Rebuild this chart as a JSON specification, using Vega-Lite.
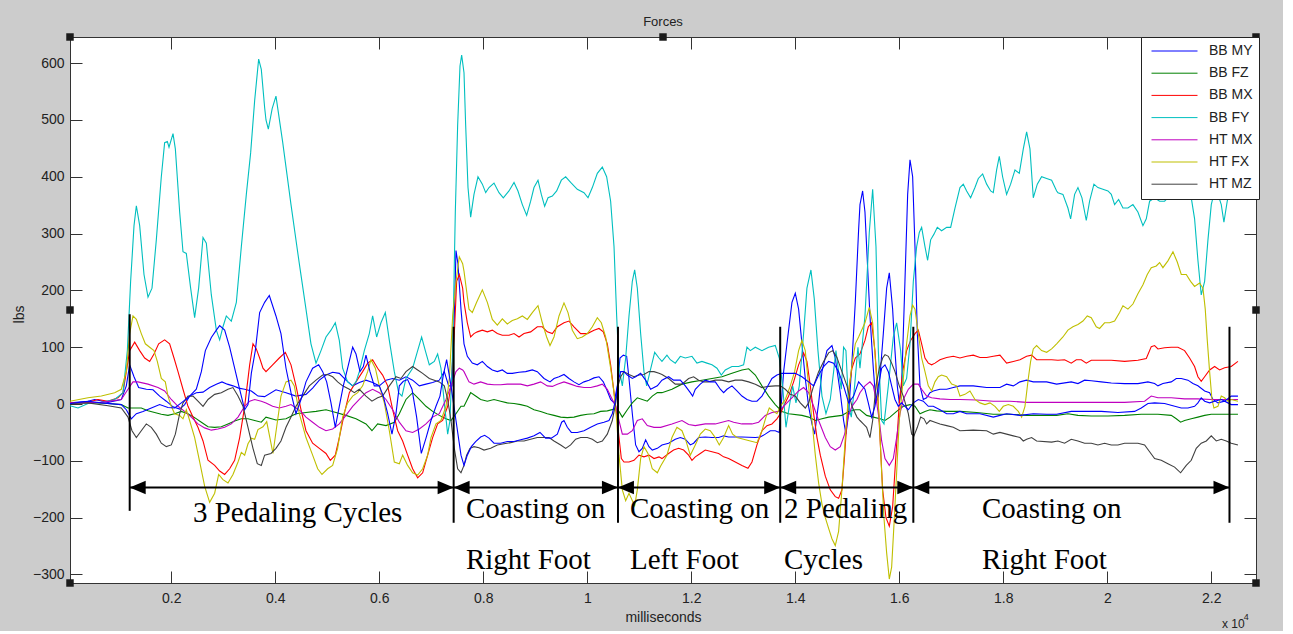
{
  "$schema": "https://vega.github.io/schema/vega-lite/v6.json",
  "width": 1186,
  "height": 546,
  "autosize": {"type": "none"},
  "padding": {"left": 70, "top": 37, "right": 27, "bottom": 48},
  "background": "#cccccc",
  "title": {"text": "Forces", "font": "Liberation Sans", "fontSize": 13, "fontWeight": "normal", "color": "#222222", "anchor": "middle", "frame": "group", "baseline": "alphabetic", "offset": -6},
  "config": {
    "view": {"fill": "white", "stroke": null},
    "axis": {"grid": false, "labelFont": "Liberation Sans", "labelFontSize": 14, "labelColor": "#222222", "titleFont": "Liberation Sans", "titleFontSize": 14, "titleFontWeight": "normal", "titleColor": "#222222", "domainColor": "#333333", "tickColor": "#333333", "tickSize": -12}
  },
  "datasets": {
    "signals": [
      {"s":"BB MY","t":52,"v":2},{"s":"BB MY","t":398,"v":5},{"s":"BB MY","t":526,"v":8},{"s":"BB MY","t":783,"v":3},{"s":"BB MY","t":1039,"v":8},{"s":"BB MY","t":1135,"v":32},{"s":"BB MY","t":1199,"v":69},{"s":"BB MY","t":1283,"v":48},{"s":"BB MY","t":1372,"v":29},{"s":"BB MY","t":1520,"v":26},{"s":"BB MY","t":1648,"v":25},{"s":"BB MY","t":1776,"v":14},{"s":"BB MY","t":1904,"v":5},{"s":"BB MY","t":2033,"v":-5},{"s":"BB MY","t":2161,"v":-9},{"s":"BB MY","t":2257,"v":-1},{"s":"BB MY","t":2353,"v":14},{"s":"BB MY","t":2481,"v":20},{"s":"BB MY","t":2610,"v":21},{"s":"BB MY","t":2738,"v":29},{"s":"BB MY","t":2866,"v":35},{"s":"BB MY","t":2975,"v":39},{"s":"BB MY","t":3077,"v":35},{"s":"BB MY","t":3186,"v":32},{"s":"BB MY","t":3295,"v":28},{"s":"BB MY","t":3411,"v":26},{"s":"BB MY","t":3539,"v":23},{"s":"BB MY","t":3667,"v":14},{"s":"BB MY","t":3795,"v":13},
      {"s":"BB MY","t":4013,"v":25},{"s":"BB MY","t":4206,"v":20},{"s":"BB MY","t":4398,"v":14},{"s":"BB MY","t":4590,"v":17},{"s":"BB MY","t":4718,"v":28},{"s":"BB MY","t":4847,"v":42},{"s":"BB MY","t":4975,"v":51},{"s":"BB MY","t":5103,"v":56},{"s":"BB MY","t":5231,"v":54},{"s":"BB MY","t":5359,"v":42},{"s":"BB MY","t":5488,"v":32},{"s":"BB MY","t":5616,"v":38},{"s":"BB MY","t":5744,"v":42},{"s":"BB MY","t":5872,"v":38},{"s":"BB MY","t":6000,"v":32},{"s":"BB MY","t":6129,"v":42},{"s":"BB MY","t":6257,"v":45},{"s":"BB MY","t":6385,"v":42},{"s":"BB MY","t":6513,"v":48},{"s":"BB MY","t":6641,"v":42},{"s":"BB MY","t":6770,"v":32},{"s":"BB MY","t":6898,"v":35},{"s":"BB MY","t":7026,"v":38},{"s":"BB MY","t":7154,"v":42},{"s":"BB MY","t":7250,"v":57},{"s":"BB MY","t":7334,"v":32},{"s":"BB MY","t":7398,"v":32},{"s":"BB MY","t":7443,"v":155},{"s":"BB MY","t":7475,"v":270},{"s":"BB MY","t":7513,"v":247},{"s":"BB MY","t":7571,"v":167},
      {"s":"BB MY","t":7629,"v":106},{"s":"BB MY","t":7693,"v":84},{"s":"BB MY","t":7789,"v":72},{"s":"BB MY","t":7885,"v":69},{"s":"BB MY","t":7982,"v":75},{"s":"BB MY","t":8078,"v":66},{"s":"BB MY","t":8174,"v":60},{"s":"BB MY","t":8270,"v":57},{"s":"BB MY","t":8366,"v":60},{"s":"BB MY","t":8462,"v":54},{"s":"BB MY","t":8558,"v":54},{"s":"BB MY","t":8687,"v":56},{"s":"BB MY","t":8815,"v":57},{"s":"BB MY","t":8943,"v":60},{"s":"BB MY","t":9039,"v":57},{"s":"BB MY","t":9168,"v":45},{"s":"BB MY","t":9283,"v":39},{"s":"BB MY","t":9360,"v":45},{"s":"BB MY","t":9456,"v":48},{"s":"BB MY","t":9552,"v":52},{"s":"BB MY","t":9648,"v":45},{"s":"BB MY","t":9744,"v":39},{"s":"BB MY","t":9840,"v":34},{"s":"BB MY","t":9937,"v":39},{"s":"BB MY","t":10033,"v":42},{"s":"BB MY","t":10129,"v":46},{"s":"BB MY","t":10225,"v":48},{"s":"BB MY","t":10308,"v":39},{"s":"BB MY","t":10385,"v":23},{"s":"BB MY","t":10449,"v":8},{"s":"BB MY","t":10514,"v":2},{"s":"BB MY","t":10578,"v":32},{"s":"BB MY","t":10629,"v":81},{"s":"BB MY","t":10693,"v":86},{"s":"BB MY","t":10757,"v":84},{"s":"BB MY","t":10802,"v":45},{"s":"BB MY","t":10866,"v":-17},{"s":"BB MY","t":10930,"v":-72},{"s":"BB MY","t":10994,"v":-84},{"s":"BB MY","t":11058,"v":-78},{"s":"BB MY","t":11122,"v":-63},{"s":"BB MY","t":11186,"v":-75},{"s":"BB MY","t":11250,"v":-81},{"s":"BB MY","t":11347,"v":-78},
      {"s":"BB MY","t":11436,"v":-72},{"s":"BB MY","t":11564,"v":-69},{"s":"BB MY","t":11692,"v":-62},{"s":"BB MY","t":11789,"v":-59},{"s":"BB MY","t":11885,"v":-62},{"s":"BB MY","t":11981,"v":-72},{"s":"BB MY","t":12045,"v":-69},{"s":"BB MY","t":12141,"v":-59},{"s":"BB MY","t":12269,"v":-58},{"s":"BB MY","t":12398,"v":-59},{"s":"BB MY","t":12526,"v":-59},{"s":"BB MY","t":12622,"v":-56},{"s":"BB MY","t":12718,"v":-58},{"s":"BB MY","t":12974,"v":-58},{"s":"BB MY","t":13231,"v":-59},{"s":"BB MY","t":13327,"v":-58},{"s":"BB MY","t":13423,"v":-53},{"s":"BB MY","t":13519,"v":-47},{"s":"BB MY","t":13615,"v":-47},{"s":"BB MY","t":13692,"v":-50},{"s":"BB MY","t":13776,"v":57},{"s":"BB MY","t":13840,"v":106},{"s":"BB MY","t":13936,"v":179},{"s":"BB MY","t":14000,"v":195},{"s":"BB MY","t":14064,"v":167},{"s":"BB MY","t":14128,"v":106},{"s":"BB MY","t":14192,"v":45},{"s":"BB MY","t":14256,"v":-4},{"s":"BB MY","t":14321,"v":-35},{"s":"BB MY","t":14372,"v":-53},{"s":"BB MY","t":14449,"v":2},{"s":"BB MY","t":14513,"v":57},{"s":"BB MY","t":14609,"v":94},{"s":"BB MY","t":14705,"v":103},{"s":"BB MY","t":14769,"v":81},{"s":"BB MY","t":14865,"v":20},{"s":"BB MY","t":14929,"v":-29},{"s":"BB MY","t":14974,"v":-53},{"s":"BB MY","t":15026,"v":-17},{"s":"BB MY","t":15090,"v":75},{"s":"BB MY","t":15154,"v":179},{"s":"BB MY","t":15218,"v":307},
      {"s":"BB MY","t":15244,"v":351},{"s":"BB MY","t":15295,"v":375},{"s":"BB MY","t":15340,"v":338},{"s":"BB MY","t":15372,"v":277},{"s":"BB MY","t":15436,"v":155},{"s":"BB MY","t":15500,"v":63},{"s":"BB MY","t":15552,"v":2},{"s":"BB MY","t":15597,"v":14},{"s":"BB MY","t":15641,"v":63},{"s":"BB MY","t":15693,"v":124},{"s":"BB MY","t":15757,"v":204},{"s":"BB MY","t":15808,"v":231},{"s":"BB MY","t":15872,"v":167},{"s":"BB MY","t":15917,"v":94},{"s":"BB MY","t":15962,"v":32},{"s":"BB MY","t":16000,"v":2},{"s":"BB MY","t":16045,"v":32},{"s":"BB MY","t":16109,"v":216},{"s":"BB MY","t":16161,"v":369},{"s":"BB MY","t":16206,"v":430},{"s":"BB MY","t":16257,"v":400},{"s":"BB MY","t":16302,"v":277},{"s":"BB MY","t":16347,"v":124},{"s":"BB MY","t":16398,"v":32},{"s":"BB MY","t":16462,"v":8},{"s":"BB MY","t":16526,"v":11},{"s":"BB MY","t":16590,"v":20},{"s":"BB MY","t":16654,"v":23},{"s":"BB MY","t":16782,"v":26},{"s":"BB MY","t":16911,"v":26},{"s":"BB MY","t":17039,"v":29},{"s":"BB MY","t":17167,"v":32},{"s":"BB MY","t":17423,"v":32},{"s":"BB MY","t":17680,"v":29},{"s":"BB MY","t":17936,"v":29},{"s":"BB MY","t":18064,"v":35},{"s":"BB MY","t":18193,"v":32},{"s":"BB MY","t":18321,"v":39},{"s":"BB MY","t":18449,"v":42},{"s":"BB MY","t":18577,"v":39},{"s":"BB MY","t":18834,"v":39},{"s":"BB MY","t":19026,"v":35},
      {"s":"BB MY","t":19307,"v":39},{"s":"BB MY","t":19436,"v":36},{"s":"BB MY","t":19564,"v":42},{"s":"BB MY","t":19692,"v":41},{"s":"BB MY","t":19884,"v":39},{"s":"BB MY","t":20077,"v":37},{"s":"BB MY","t":20333,"v":36},{"s":"BB MY","t":20589,"v":36},{"s":"BB MY","t":20782,"v":39},{"s":"BB MY","t":20910,"v":36},{"s":"BB MY","t":20974,"v":32},{"s":"BB MY","t":21070,"v":36},{"s":"BB MY","t":21230,"v":39},{"s":"BB MY","t":21327,"v":45},{"s":"BB MY","t":21423,"v":45},{"s":"BB MY","t":21551,"v":42},{"s":"BB MY","t":21647,"v":36},{"s":"BB MY","t":21743,"v":32},{"s":"BB MY","t":21872,"v":23},{"s":"BB MY","t":21968,"v":20},{"s":"BB MY","t":22032,"v":8},{"s":"BB MY","t":22128,"v":2},{"s":"BB MY","t":22256,"v":5},{"s":"BB MY","t":22384,"v":-1},{"s":"BB MY","t":22513,"v":-1},

      {"s":"BB FZ","t":52,"v":2},{"s":"BB FZ","t":398,"v":3},{"s":"BB FZ","t":783,"v":1},{"s":"BB FZ","t":1039,"v":-1},{"s":"BB FZ","t":1167,"v":-7},{"s":"BB FZ","t":1423,"v":-7},{"s":"BB FZ","t":1552,"v":-12},{"s":"BB FZ","t":1680,"v":-15},{"s":"BB FZ","t":1808,"v":-18},{"s":"BB FZ","t":1936,"v":-20},{"s":"BB FZ","t":2064,"v":-17},{"s":"BB FZ","t":2193,"v":-13},{"s":"BB FZ","t":2321,"v":-17},{"s":"BB FZ","t":2449,"v":-24},{"s":"BB FZ","t":2578,"v":-32},{"s":"BB FZ","t":2706,"v":-40},{"s":"BB FZ","t":2834,"v":-41},{"s":"BB FZ","t":2962,"v":-40},{"s":"BB FZ","t":3090,"v":-35},{"s":"BB FZ","t":3218,"v":-30},{"s":"BB FZ","t":3347,"v":-26},{"s":"BB FZ","t":3475,"v":-26},{"s":"BB FZ","t":3603,"v":-29},{"s":"BB FZ","t":3731,"v":-32},
      {"s":"BB FZ","t":3821,"v":-23},{"s":"BB FZ","t":4013,"v":-28},{"s":"BB FZ","t":4206,"v":-26},{"s":"BB FZ","t":4398,"v":-17},{"s":"BB FZ","t":4590,"v":-15},{"s":"BB FZ","t":4783,"v":-13},{"s":"BB FZ","t":4975,"v":-10},{"s":"BB FZ","t":5167,"v":-15},{"s":"BB FZ","t":5359,"v":-20},{"s":"BB FZ","t":5552,"v":-26},{"s":"BB FZ","t":5744,"v":-35},{"s":"BB FZ","t":5859,"v":-47},{"s":"BB FZ","t":5968,"v":-35},{"s":"BB FZ","t":6129,"v":-38},{"s":"BB FZ","t":6289,"v":-32},{"s":"BB FZ","t":6385,"v":-17},{"s":"BB FZ","t":6513,"v":8},{"s":"BB FZ","t":6641,"v":20},{"s":"BB FZ","t":6770,"v":8},{"s":"BB FZ","t":6898,"v":-4},{"s":"BB FZ","t":7026,"v":-13},{"s":"BB FZ","t":7154,"v":-20},{"s":"BB FZ","t":7283,"v":-26},{"s":"BB FZ","t":7379,"v":-29},{"s":"BB FZ","t":7475,"v":-17},{"s":"BB FZ","t":7571,"v":-4},
      {"s":"BB FZ","t":7629,"v":-4},{"s":"BB FZ","t":7693,"v":8},{"s":"BB FZ","t":7757,"v":20},{"s":"BB FZ","t":7853,"v":14},{"s":"BB FZ","t":7949,"v":8},{"s":"BB FZ","t":8078,"v":5},{"s":"BB FZ","t":8206,"v":8},{"s":"BB FZ","t":8334,"v":5},{"s":"BB FZ","t":8462,"v":2},{"s":"BB FZ","t":8591,"v":1},{"s":"BB FZ","t":8719,"v":-1},{"s":"BB FZ","t":8847,"v":-4},{"s":"BB FZ","t":8975,"v":-10},{"s":"BB FZ","t":9103,"v":-13},{"s":"BB FZ","t":9231,"v":-17},{"s":"BB FZ","t":9360,"v":-20},{"s":"BB FZ","t":9488,"v":-23},{"s":"BB FZ","t":9616,"v":-24},{"s":"BB FZ","t":9744,"v":-23},{"s":"BB FZ","t":9872,"v":-20},{"s":"BB FZ","t":10001,"v":-18},{"s":"BB FZ","t":10129,"v":-17},{"s":"BB FZ","t":10257,"v":-13},{"s":"BB FZ","t":10385,"v":-12},{"s":"BB FZ","t":10514,"v":-9},{"s":"BB FZ","t":10610,"v":-13},{"s":"BB FZ","t":10674,"v":-23},{"s":"BB FZ","t":10770,"v":-10},{"s":"BB FZ","t":10866,"v":2},{"s":"BB FZ","t":10962,"v":11},{"s":"BB FZ","t":11058,"v":8},{"s":"BB FZ","t":11154,"v":5},{"s":"BB FZ","t":11250,"v":14},{"s":"BB FZ","t":11347,"v":20},
      {"s":"BB FZ","t":11436,"v":20},{"s":"BB FZ","t":11628,"v":26},{"s":"BB FZ","t":11821,"v":35},{"s":"BB FZ","t":12013,"v":39},{"s":"BB FZ","t":12205,"v":42},{"s":"BB FZ","t":12398,"v":45},{"s":"BB FZ","t":12590,"v":48},{"s":"BB FZ","t":12782,"v":54},{"s":"BB FZ","t":12974,"v":60},{"s":"BB FZ","t":13103,"v":62},{"s":"BB FZ","t":13231,"v":51},{"s":"BB FZ","t":13359,"v":32},{"s":"BB FZ","t":13487,"v":14},{"s":"BB FZ","t":13615,"v":-1},{"s":"BB FZ","t":13744,"v":-13},{"s":"BB FZ","t":13872,"v":-17},{"s":"BB FZ","t":14128,"v":-20},{"s":"BB FZ","t":14256,"v":-23},{"s":"BB FZ","t":14385,"v":-29},{"s":"BB FZ","t":14513,"v":-26},{"s":"BB FZ","t":14641,"v":-23},{"s":"BB FZ","t":14897,"v":-20},{"s":"BB FZ","t":15026,"v":-13},{"s":"BB FZ","t":15154,"v":-10},
      {"s":"BB FZ","t":15244,"v":-10},{"s":"BB FZ","t":15372,"v":-20},{"s":"BB FZ","t":15500,"v":-23},{"s":"BB FZ","t":15629,"v":-26},{"s":"BB FZ","t":15725,"v":-29},{"s":"BB FZ","t":15821,"v":-23},{"s":"BB FZ","t":15949,"v":-13},{"s":"BB FZ","t":16077,"v":-4},{"s":"BB FZ","t":16206,"v":-1},{"s":"BB FZ","t":16302,"v":-4},{"s":"BB FZ","t":16398,"v":-17},{"s":"BB FZ","t":16494,"v":-13},{"s":"BB FZ","t":16590,"v":-10},{"s":"BB FZ","t":16718,"v":-12},{"s":"BB FZ","t":16911,"v":-13},{"s":"BB FZ","t":17167,"v":-13},{"s":"BB FZ","t":17488,"v":-15},{"s":"BB FZ","t":17808,"v":-18},{"s":"BB FZ","t":18129,"v":-18},{"s":"BB FZ","t":18449,"v":-20},{"s":"BB FZ","t":18770,"v":-20},{"s":"BB FZ","t":19026,"v":-20},
      {"s":"BB FZ","t":19243,"v":-17},{"s":"BB FZ","t":19436,"v":-20},{"s":"BB FZ","t":19692,"v":-21},{"s":"BB FZ","t":20013,"v":-21},{"s":"BB FZ","t":20333,"v":-20},{"s":"BB FZ","t":20654,"v":-18},{"s":"BB FZ","t":20974,"v":-18},{"s":"BB FZ","t":21230,"v":-20},{"s":"BB FZ","t":21327,"v":-26},{"s":"BB FZ","t":21410,"v":-32},{"s":"BB FZ","t":21487,"v":-29},{"s":"BB FZ","t":21615,"v":-26},{"s":"BB FZ","t":21743,"v":-23},{"s":"BB FZ","t":21872,"v":-20},{"s":"BB FZ","t":22000,"v":-18},{"s":"BB FZ","t":22256,"v":-18},{"s":"BB FZ","t":22513,"v":-18},

      {"s":"BB MX","t":52,"v":2},{"s":"BB MX","t":398,"v":3},{"s":"BB MX","t":590,"v":8},{"s":"BB MX","t":783,"v":5},{"s":"BB MX","t":975,"v":11},{"s":"BB MX","t":1071,"v":20},{"s":"BB MX","t":1135,"v":57},{"s":"BB MX","t":1199,"v":94},{"s":"BB MX","t":1296,"v":109},{"s":"BB MX","t":1392,"v":94},{"s":"BB MX","t":1488,"v":81},{"s":"BB MX","t":1584,"v":75},{"s":"BB MX","t":1667,"v":88},{"s":"BB MX","t":1757,"v":106},{"s":"BB MX","t":1872,"v":113},{"s":"BB MX","t":1968,"v":106},{"s":"BB MX","t":2052,"v":81},{"s":"BB MX","t":2129,"v":57},{"s":"BB MX","t":2225,"v":26},{"s":"BB MX","t":2321,"v":-4},{"s":"BB MX","t":2417,"v":-23},{"s":"BB MX","t":2513,"v":-41},{"s":"BB MX","t":2610,"v":-65},{"s":"BB MX","t":2706,"v":-99},{"s":"BB MX","t":2834,"v":-108},{"s":"BB MX","t":2930,"v":-118},{"s":"BB MX","t":3026,"v":-124},{"s":"BB MX","t":3122,"v":-114},{"s":"BB MX","t":3218,"v":-99},{"s":"BB MX","t":3315,"v":-59},{"s":"BB MX","t":3411,"v":-4},{"s":"BB MX","t":3507,"v":69},{"s":"BB MX","t":3571,"v":106},{"s":"BB MX","t":3635,"v":97},{"s":"BB MX","t":3699,"v":81},{"s":"BB MX","t":3763,"v":63},
      {"s":"BB MX","t":3821,"v":57},{"s":"BB MX","t":3949,"v":69},{"s":"BB MX","t":4077,"v":81},{"s":"BB MX","t":4193,"v":91},{"s":"BB MX","t":4302,"v":69},{"s":"BB MX","t":4398,"v":32},{"s":"BB MX","t":4494,"v":-10},{"s":"BB MX","t":4590,"v":-47},{"s":"BB MX","t":4718,"v":-69},{"s":"BB MX","t":4847,"v":-78},{"s":"BB MX","t":4975,"v":-87},{"s":"BB MX","t":5058,"v":-99},{"s":"BB MX","t":5154,"v":-90},{"s":"BB MX","t":5231,"v":-59},{"s":"BB MX","t":5327,"v":-17},{"s":"BB MX","t":5424,"v":20},{"s":"BB MX","t":5552,"v":39},{"s":"BB MX","t":5680,"v":57},{"s":"BB MX","t":5776,"v":72},{"s":"BB MX","t":5872,"v":78},{"s":"BB MX","t":5968,"v":63},{"s":"BB MX","t":6064,"v":51},{"s":"BB MX","t":6161,"v":32},{"s":"BB MX","t":6257,"v":-10},{"s":"BB MX","t":6353,"v":-47},{"s":"BB MX","t":6449,"v":-65},{"s":"BB MX","t":6545,"v":-90},{"s":"BB MX","t":6641,"v":-114},{"s":"BB MX","t":6738,"v":-130},{"s":"BB MX","t":6834,"v":-121},{"s":"BB MX","t":6930,"v":-90},{"s":"BB MX","t":7026,"v":-59},{"s":"BB MX","t":7122,"v":-35},{"s":"BB MX","t":7218,"v":-29},{"s":"BB MX","t":7315,"v":-4},{"s":"BB MX","t":7379,"v":32},{"s":"BB MX","t":7443,"v":124},{"s":"BB MX","t":7488,"v":216},{"s":"BB MX","t":7539,"v":228},{"s":"BB MX","t":7603,"v":204},
      {"s":"BB MX","t":7629,"v":179},{"s":"BB MX","t":7693,"v":143},{"s":"BB MX","t":7757,"v":118},{"s":"BB MX","t":7821,"v":124},{"s":"BB MX","t":7885,"v":127},{"s":"BB MX","t":7982,"v":130},{"s":"BB MX","t":8078,"v":127},{"s":"BB MX","t":8174,"v":130},{"s":"BB MX","t":8270,"v":124},{"s":"BB MX","t":8366,"v":121},{"s":"BB MX","t":8494,"v":121},{"s":"BB MX","t":8591,"v":124},{"s":"BB MX","t":8687,"v":118},{"s":"BB MX","t":8783,"v":124},{"s":"BB MX","t":8911,"v":127},{"s":"BB MX","t":9039,"v":136},{"s":"BB MX","t":9135,"v":136},{"s":"BB MX","t":9231,"v":127},{"s":"BB MX","t":9328,"v":124},{"s":"BB MX","t":9424,"v":136},{"s":"BB MX","t":9552,"v":143},{"s":"BB MX","t":9648,"v":146},{"s":"BB MX","t":9744,"v":136},{"s":"BB MX","t":9872,"v":124},{"s":"BB MX","t":10001,"v":124},{"s":"BB MX","t":10129,"v":130},{"s":"BB MX","t":10225,"v":133},{"s":"BB MX","t":10308,"v":127},{"s":"BB MX","t":10385,"v":106},{"s":"BB MX","t":10449,"v":69},{"s":"BB MX","t":10514,"v":20},{"s":"BB MX","t":10565,"v":-17},{"s":"BB MX","t":10610,"v":-59},{"s":"BB MX","t":10655,"v":-96},{"s":"BB MX","t":10706,"v":-102},{"s":"BB MX","t":10802,"v":-102},{"s":"BB MX","t":10898,"v":-99},{"s":"BB MX","t":10994,"v":-90},{"s":"BB MX","t":11090,"v":-93},{"s":"BB MX","t":11186,"v":-90},{"s":"BB MX","t":11283,"v":-96},{"s":"BB MX","t":11379,"v":-93},
      {"s":"BB MX","t":11436,"v":-96},{"s":"BB MX","t":11564,"v":-87},{"s":"BB MX","t":11660,"v":-81},{"s":"BB MX","t":11757,"v":-78},{"s":"BB MX","t":11853,"v":-81},{"s":"BB MX","t":11949,"v":-90},{"s":"BB MX","t":12013,"v":-99},{"s":"BB MX","t":12077,"v":-93},{"s":"BB MX","t":12173,"v":-87},{"s":"BB MX","t":12269,"v":-81},{"s":"BB MX","t":12398,"v":-84},{"s":"BB MX","t":12526,"v":-87},{"s":"BB MX","t":12622,"v":-93},{"s":"BB MX","t":12718,"v":-96},{"s":"BB MX","t":12846,"v":-102},{"s":"BB MX","t":12974,"v":-108},{"s":"BB MX","t":13090,"v":-113},{"s":"BB MX","t":13167,"v":-102},{"s":"BB MX","t":13263,"v":-72},{"s":"BB MX","t":13359,"v":-47},{"s":"BB MX","t":13455,"v":-38},{"s":"BB MX","t":13551,"v":-35},{"s":"BB MX","t":13647,"v":-26},{"s":"BB MX","t":13712,"v":-17},{"s":"BB MX","t":13776,"v":-4},{"s":"BB MX","t":13872,"v":14},{"s":"BB MX","t":13968,"v":39},{"s":"BB MX","t":14064,"v":69},{"s":"BB MX","t":14160,"v":90},{"s":"BB MX","t":14224,"v":75},{"s":"BB MX","t":14289,"v":32},{"s":"BB MX","t":14353,"v":-17},{"s":"BB MX","t":14417,"v":-59},{"s":"BB MX","t":14481,"v":-90},{"s":"BB MX","t":14577,"v":-127},{"s":"BB MX","t":14673,"v":-151},{"s":"BB MX","t":14769,"v":-163},{"s":"BB MX","t":14833,"v":-166},{"s":"BB MX","t":14897,"v":-151},{"s":"BB MX","t":14949,"v":-90},{"s":"BB MX","t":14994,"v":-29},{"s":"BB MX","t":15039,"v":32},{"s":"BB MX","t":15090,"v":63},{"s":"BB MX","t":15154,"v":81},
      {"s":"BB MX","t":15244,"v":88},{"s":"BB MX","t":15340,"v":112},{"s":"BB MX","t":15404,"v":136},{"s":"BB MX","t":15468,"v":143},{"s":"BB MX","t":15532,"v":94},{"s":"BB MX","t":15577,"v":32},{"s":"BB MX","t":15629,"v":-59},{"s":"BB MX","t":15680,"v":-151},{"s":"BB MX","t":15744,"v":-200},{"s":"BB MX","t":15808,"v":-215},{"s":"BB MX","t":15872,"v":-181},{"s":"BB MX","t":15936,"v":-90},{"s":"BB MX","t":16000,"v":2},{"s":"BB MX","t":16064,"v":57},{"s":"BB MX","t":16141,"v":94},{"s":"BB MX","t":16218,"v":112},{"s":"BB MX","t":16302,"v":124},{"s":"BB MX","t":16366,"v":130},{"s":"BB MX","t":16430,"v":106},{"s":"BB MX","t":16494,"v":81},{"s":"BB MX","t":16558,"v":72},{"s":"BB MX","t":16622,"v":69},{"s":"BB MX","t":16686,"v":72},{"s":"BB MX","t":16782,"v":78},{"s":"BB MX","t":16911,"v":82},{"s":"BB MX","t":17039,"v":84},{"s":"BB MX","t":17167,"v":81},{"s":"BB MX","t":17295,"v":84},{"s":"BB MX","t":17423,"v":86},{"s":"BB MX","t":17552,"v":82},{"s":"BB MX","t":17680,"v":82},{"s":"BB MX","t":17808,"v":84},{"s":"BB MX","t":17936,"v":86},{"s":"BB MX","t":18064,"v":72},{"s":"BB MX","t":18193,"v":75},{"s":"BB MX","t":18321,"v":78},{"s":"BB MX","t":18449,"v":84},{"s":"BB MX","t":18545,"v":86},{"s":"BB MX","t":18641,"v":78},{"s":"BB MX","t":18770,"v":78},{"s":"BB MX","t":18930,"v":78},
      {"s":"BB MX","t":19051,"v":77},{"s":"BB MX","t":19179,"v":78},{"s":"BB MX","t":19307,"v":72},{"s":"BB MX","t":19404,"v":78},{"s":"BB MX","t":19500,"v":78},{"s":"BB MX","t":19596,"v":72},{"s":"BB MX","t":19692,"v":77},{"s":"BB MX","t":19884,"v":77},{"s":"BB MX","t":20077,"v":77},{"s":"BB MX","t":20333,"v":75},{"s":"BB MX","t":20589,"v":77},{"s":"BB MX","t":20750,"v":80},{"s":"BB MX","t":20846,"v":101},{"s":"BB MX","t":20910,"v":103},{"s":"BB MX","t":20974,"v":97},{"s":"BB MX","t":21102,"v":99},{"s":"BB MX","t":21230,"v":100},{"s":"BB MX","t":21359,"v":100},{"s":"BB MX","t":21487,"v":94},{"s":"BB MX","t":21583,"v":81},{"s":"BB MX","t":21679,"v":66},{"s":"BB MX","t":21743,"v":48},{"s":"BB MX","t":21807,"v":40},{"s":"BB MX","t":21872,"v":48},{"s":"BB MX","t":21968,"v":60},{"s":"BB MX","t":22064,"v":66},{"s":"BB MX","t":22160,"v":60},{"s":"BB MX","t":22256,"v":64},{"s":"BB MX","t":22384,"v":66},{"s":"BB MX","t":22513,"v":75},

      {"s":"BB FY","t":52,"v":-3},{"s":"BB FY","t":206,"v":-7},{"s":"BB FY","t":398,"v":1},{"s":"BB FY","t":655,"v":3},{"s":"BB FY","t":911,"v":8},{"s":"BB FY","t":1071,"v":20},{"s":"BB FY","t":1155,"v":94},{"s":"BB FY","t":1218,"v":216},{"s":"BB FY","t":1283,"v":314},{"s":"BB FY","t":1328,"v":349},{"s":"BB FY","t":1392,"v":314},{"s":"BB FY","t":1475,"v":228},{"s":"BB FY","t":1552,"v":188},{"s":"BB FY","t":1629,"v":204},{"s":"BB FY","t":1712,"v":289},{"s":"BB FY","t":1808,"v":400},{"s":"BB FY","t":1872,"v":460},{"s":"BB FY","t":1924,"v":462},{"s":"BB FY","t":1956,"v":452},{"s":"BB FY","t":2033,"v":476},{"s":"BB FY","t":2078,"v":449},{"s":"BB FY","t":2161,"v":338},{"s":"BB FY","t":2225,"v":268},{"s":"BB FY","t":2289,"v":265},{"s":"BB FY","t":2372,"v":204},{"s":"BB FY","t":2449,"v":152},{"s":"BB FY","t":2526,"v":204},{"s":"BB FY","t":2610,"v":293},{"s":"BB FY","t":2674,"v":283},{"s":"BB FY","t":2770,"v":192},{"s":"BB FY","t":2866,"v":130},{"s":"BB FY","t":2930,"v":113},{"s":"BB FY","t":2994,"v":136},{"s":"BB FY","t":3058,"v":155},{"s":"BB FY","t":3154,"v":146},{"s":"BB FY","t":3251,"v":179},{"s":"BB FY","t":3347,"v":277},{"s":"BB FY","t":3443,"v":369},{"s":"BB FY","t":3526,"v":442},{"s":"BB FY","t":3603,"v":534},{"s":"BB FY","t":3680,"v":607},{"s":"BB FY","t":3731,"v":589},{"s":"BB FY","t":3795,"v":522},
      {"s":"BB FY","t":3821,"v":500},{"s":"BB FY","t":3866,"v":484},{"s":"BB FY","t":3940,"v":520},{"s":"BB FY","t":4013,"v":542},{"s":"BB FY","t":4142,"v":461},{"s":"BB FY","t":4302,"v":351},{"s":"BB FY","t":4462,"v":247},{"s":"BB FY","t":4590,"v":167},{"s":"BB FY","t":4686,"v":106},{"s":"BB FY","t":4783,"v":72},{"s":"BB FY","t":4879,"v":94},{"s":"BB FY","t":4975,"v":118},{"s":"BB FY","t":5071,"v":130},{"s":"BB FY","t":5154,"v":143},{"s":"BB FY","t":5231,"v":112},{"s":"BB FY","t":5295,"v":63},{"s":"BB FY","t":5391,"v":39},{"s":"BB FY","t":5488,"v":32},{"s":"BB FY","t":5552,"v":39},{"s":"BB FY","t":5616,"v":57},{"s":"BB FY","t":5712,"v":94},{"s":"BB FY","t":5808,"v":124},{"s":"BB FY","t":5872,"v":155},{"s":"BB FY","t":5949,"v":118},{"s":"BB FY","t":6032,"v":143},{"s":"BB FY","t":6116,"v":161},{"s":"BB FY","t":6193,"v":112},{"s":"BB FY","t":6289,"v":57},{"s":"BB FY","t":6372,"v":20},{"s":"BB FY","t":6436,"v":14},{"s":"BB FY","t":6513,"v":45},{"s":"BB FY","t":6641,"v":63},{"s":"BB FY","t":6738,"v":94},{"s":"BB FY","t":6814,"v":118},{"s":"BB FY","t":6885,"v":94},{"s":"BB FY","t":6962,"v":69},{"s":"BB FY","t":7058,"v":75},{"s":"BB FY","t":7122,"v":88},{"s":"BB FY","t":7186,"v":63},{"s":"BB FY","t":7250,"v":2},{"s":"BB FY","t":7315,"v":-53},{"s":"BB FY","t":7359,"v":-29},{"s":"BB FY","t":7411,"v":94},{"s":"BB FY","t":7462,"v":338},{"s":"BB FY","t":7507,"v":491},{"s":"BB FY","t":7552,"v":595},{"s":"BB FY","t":7584,"v":614},
      {"s":"BB FY","t":7629,"v":583},{"s":"BB FY","t":7661,"v":491},{"s":"BB FY","t":7706,"v":381},{"s":"BB FY","t":7757,"v":329},{"s":"BB FY","t":7821,"v":369},{"s":"BB FY","t":7898,"v":400},{"s":"BB FY","t":7982,"v":387},{"s":"BB FY","t":8046,"v":372},{"s":"BB FY","t":8110,"v":381},{"s":"BB FY","t":8206,"v":389},{"s":"BB FY","t":8302,"v":372},{"s":"BB FY","t":8385,"v":363},{"s":"BB FY","t":8494,"v":375},{"s":"BB FY","t":8591,"v":390},{"s":"BB FY","t":8667,"v":375},{"s":"BB FY","t":8751,"v":351},{"s":"BB FY","t":8834,"v":332},{"s":"BB FY","t":8911,"v":357},{"s":"BB FY","t":8975,"v":381},{"s":"BB FY","t":9052,"v":394},{"s":"BB FY","t":9116,"v":369},{"s":"BB FY","t":9180,"v":348},{"s":"BB FY","t":9245,"v":363},{"s":"BB FY","t":9328,"v":366},{"s":"BB FY","t":9411,"v":375},{"s":"BB FY","t":9501,"v":394},{"s":"BB FY","t":9584,"v":400},{"s":"BB FY","t":9680,"v":390},{"s":"BB FY","t":9808,"v":378},{"s":"BB FY","t":9937,"v":372},{"s":"BB FY","t":10014,"v":363},{"s":"BB FY","t":10097,"v":381},{"s":"BB FY","t":10193,"v":406},{"s":"BB FY","t":10289,"v":417},{"s":"BB FY","t":10372,"v":400},{"s":"BB FY","t":10449,"v":357},{"s":"BB FY","t":10514,"v":277},{"s":"BB FY","t":10565,"v":155},{"s":"BB FY","t":10610,"v":63},{"s":"BB FY","t":10674,"v":32},{"s":"BB FY","t":10738,"v":81},{"s":"BB FY","t":10802,"v":155},{"s":"BB FY","t":10866,"v":216},{"s":"BB FY","t":10911,"v":236},{"s":"BB FY","t":10962,"v":204},{"s":"BB FY","t":11026,"v":124},{"s":"BB FY","t":11090,"v":57},{"s":"BB FY","t":11142,"v":32},{"s":"BB FY","t":11206,"v":57},{"s":"BB FY","t":11296,"v":91},{"s":"BB FY","t":11379,"v":81},
      {"s":"BB FY","t":11436,"v":75},{"s":"BB FY","t":11532,"v":86},{"s":"BB FY","t":11596,"v":78},{"s":"BB FY","t":11692,"v":72},{"s":"BB FY","t":11789,"v":84},{"s":"BB FY","t":11885,"v":81},{"s":"BB FY","t":12013,"v":84},{"s":"BB FY","t":12109,"v":72},{"s":"BB FY","t":12205,"v":75},{"s":"BB FY","t":12301,"v":72},{"s":"BB FY","t":12398,"v":69},{"s":"BB FY","t":12494,"v":63},{"s":"BB FY","t":12577,"v":51},{"s":"BB FY","t":12654,"v":60},{"s":"BB FY","t":12782,"v":66},{"s":"BB FY","t":12910,"v":66},{"s":"BB FY","t":13006,"v":69},{"s":"BB FY","t":13071,"v":100},{"s":"BB FY","t":13135,"v":94},{"s":"BB FY","t":13231,"v":100},{"s":"BB FY","t":13359,"v":94},{"s":"BB FY","t":13487,"v":100},{"s":"BB FY","t":13615,"v":103},{"s":"BB FY","t":13692,"v":81},{"s":"BB FY","t":13756,"v":32},{"s":"BB FY","t":13821,"v":-41},{"s":"BB FY","t":13885,"v":-4},{"s":"BB FY","t":13949,"v":32},{"s":"BB FY","t":14013,"v":2},{"s":"BB FY","t":14077,"v":32},{"s":"BB FY","t":14160,"v":124},{"s":"BB FY","t":14224,"v":204},{"s":"BB FY","t":14301,"v":236},{"s":"BB FY","t":14365,"v":185},{"s":"BB FY","t":14436,"v":94},{"s":"BB FY","t":14513,"v":14},{"s":"BB FY","t":14590,"v":-17},{"s":"BB FY","t":14673,"v":8},{"s":"BB FY","t":14737,"v":57},{"s":"BB FY","t":14782,"v":94},{"s":"BB FY","t":14833,"v":57},{"s":"BB FY","t":14885,"v":26},{"s":"BB FY","t":14929,"v":100},{"s":"BB FY","t":14974,"v":94},{"s":"BB FY","t":15026,"v":-4},{"s":"BB FY","t":15077,"v":-23},{"s":"BB FY","t":15141,"v":32},{"s":"BB FY","t":15205,"v":100},
      {"s":"BB FY","t":15244,"v":63},{"s":"BB FY","t":15340,"v":155},{"s":"BB FY","t":15423,"v":302},{"s":"BB FY","t":15488,"v":378},{"s":"BB FY","t":15552,"v":277},{"s":"BB FY","t":15597,"v":94},{"s":"BB FY","t":15661,"v":-29},{"s":"BB FY","t":15706,"v":-35},{"s":"BB FY","t":15789,"v":32},{"s":"BB FY","t":15885,"v":118},{"s":"BB FY","t":15949,"v":143},{"s":"BB FY","t":16026,"v":94},{"s":"BB FY","t":16077,"v":32},{"s":"BB FY","t":16141,"v":45},{"s":"BB FY","t":16206,"v":106},{"s":"BB FY","t":16270,"v":216},{"s":"BB FY","t":16334,"v":277},{"s":"BB FY","t":16385,"v":302},{"s":"BB FY","t":16430,"v":311},{"s":"BB FY","t":16494,"v":277},{"s":"BB FY","t":16545,"v":253},{"s":"BB FY","t":16603,"v":289},{"s":"BB FY","t":16667,"v":299},{"s":"BB FY","t":16731,"v":311},{"s":"BB FY","t":16814,"v":305},{"s":"BB FY","t":16911,"v":311},{"s":"BB FY","t":16988,"v":311},{"s":"BB FY","t":17071,"v":345},{"s":"BB FY","t":17167,"v":381},{"s":"BB FY","t":17231,"v":387},{"s":"BB FY","t":17295,"v":375},{"s":"BB FY","t":17372,"v":363},{"s":"BB FY","t":17455,"v":381},{"s":"BB FY","t":17520,"v":397},{"s":"BB FY","t":17603,"v":405},{"s":"BB FY","t":17680,"v":387},{"s":"BB FY","t":17757,"v":375},{"s":"BB FY","t":17808,"v":372},{"s":"BB FY","t":17872,"v":412},{"s":"BB FY","t":17923,"v":436},{"s":"BB FY","t":17987,"v":400},{"s":"BB FY","t":18064,"v":369},{"s":"BB FY","t":18141,"v":387},{"s":"BB FY","t":18225,"v":412},{"s":"BB FY","t":18308,"v":406},{"s":"BB FY","t":18385,"v":449},{"s":"BB FY","t":18449,"v":479},{"s":"BB FY","t":18513,"v":449},{"s":"BB FY","t":18577,"v":363},{"s":"BB FY","t":18654,"v":387},{"s":"BB FY","t":18737,"v":400},{"s":"BB FY","t":18834,"v":397},{"s":"BB FY","t":18930,"v":394},{"s":"BB FY","t":19026,"v":375},
      {"s":"BB FY","t":19051,"v":372},{"s":"BB FY","t":19147,"v":369},{"s":"BB FY","t":19243,"v":345},{"s":"BB FY","t":19295,"v":326},{"s":"BB FY","t":19372,"v":369},{"s":"BB FY","t":19436,"v":381},{"s":"BB FY","t":19513,"v":363},{"s":"BB FY","t":19596,"v":323},{"s":"BB FY","t":19660,"v":357},{"s":"BB FY","t":19743,"v":387},{"s":"BB FY","t":19820,"v":381},{"s":"BB FY","t":19916,"v":378},{"s":"BB FY","t":20013,"v":375},{"s":"BB FY","t":20077,"v":369},{"s":"BB FY","t":20141,"v":351},{"s":"BB FY","t":20218,"v":360},{"s":"BB FY","t":20301,"v":345},{"s":"BB FY","t":20397,"v":345},{"s":"BB FY","t":20493,"v":351},{"s":"BB FY","t":20589,"v":338},{"s":"BB FY","t":20686,"v":314},{"s":"BB FY","t":20750,"v":326},{"s":"BB FY","t":20814,"v":357},{"s":"BB FY","t":20910,"v":363},{"s":"BB FY","t":21006,"v":357},{"s":"BB FY","t":21102,"v":357},{"s":"BB FY","t":21230,"v":369},{"s":"BB FY","t":21359,"v":381},{"s":"BB FY","t":21487,"v":375},{"s":"BB FY","t":21615,"v":363},{"s":"BB FY","t":21679,"v":326},{"s":"BB FY","t":21743,"v":253},{"s":"BB FY","t":21807,"v":192},{"s":"BB FY","t":21872,"v":216},{"s":"BB FY","t":21936,"v":289},{"s":"BB FY","t":22000,"v":351},{"s":"BB FY","t":22064,"v":375},{"s":"BB FY","t":22128,"v":369},{"s":"BB FY","t":22192,"v":351},{"s":"BB FY","t":22243,"v":320},{"s":"BB FY","t":22307,"v":357},{"s":"BB FY","t":22371,"v":381},{"s":"BB FY","t":22435,"v":375},

      {"s":"HT MX","t":52,"v":2},{"s":"HT MX","t":655,"v":3},{"s":"HT MX","t":1039,"v":8},{"s":"HT MX","t":1167,"v":26},{"s":"HT MX","t":1263,"v":39},{"s":"HT MX","t":1359,"v":39},{"s":"HT MX","t":1552,"v":35},{"s":"HT MX","t":1744,"v":29},{"s":"HT MX","t":1872,"v":23},{"s":"HT MX","t":2000,"v":8},{"s":"HT MX","t":2129,"v":-4},{"s":"HT MX","t":2257,"v":-13},{"s":"HT MX","t":2385,"v":-23},{"s":"HT MX","t":2513,"v":-35},{"s":"HT MX","t":2641,"v":-42},{"s":"HT MX","t":2770,"v":-46},{"s":"HT MX","t":2898,"v":-44},{"s":"HT MX","t":3026,"v":-41},{"s":"HT MX","t":3154,"v":-35},{"s":"HT MX","t":3283,"v":-23},{"s":"HT MX","t":3411,"v":-4},{"s":"HT MX","t":3507,"v":5},{"s":"HT MX","t":3603,"v":8},{"s":"HT MX","t":3731,"v":5},
      {"s":"HT MX","t":3821,"v":2},{"s":"HT MX","t":3949,"v":-4},{"s":"HT MX","t":4077,"v":-7},{"s":"HT MX","t":4206,"v":-4},{"s":"HT MX","t":4302,"v":-1},{"s":"HT MX","t":4398,"v":-7},{"s":"HT MX","t":4494,"v":-13},{"s":"HT MX","t":4590,"v":-23},{"s":"HT MX","t":4718,"v":-32},{"s":"HT MX","t":4847,"v":-41},{"s":"HT MX","t":4975,"v":-47},{"s":"HT MX","t":5103,"v":-44},{"s":"HT MX","t":5231,"v":-35},{"s":"HT MX","t":5359,"v":-20},{"s":"HT MX","t":5488,"v":-4},{"s":"HT MX","t":5616,"v":8},{"s":"HT MX","t":5744,"v":20},{"s":"HT MX","t":5872,"v":26},{"s":"HT MX","t":6000,"v":20},{"s":"HT MX","t":6129,"v":8},{"s":"HT MX","t":6257,"v":-10},{"s":"HT MX","t":6385,"v":-32},{"s":"HT MX","t":6513,"v":-47},{"s":"HT MX","t":6641,"v":-50},{"s":"HT MX","t":6770,"v":-44},{"s":"HT MX","t":6898,"v":-35},{"s":"HT MX","t":7026,"v":-23},{"s":"HT MX","t":7154,"v":-17},{"s":"HT MX","t":7283,"v":8},{"s":"HT MX","t":7379,"v":32},{"s":"HT MX","t":7475,"v":57},{"s":"HT MX","t":7539,"v":63},{"s":"HT MX","t":7603,"v":60},
      {"s":"HT MX","t":7629,"v":57},{"s":"HT MX","t":7725,"v":39},{"s":"HT MX","t":7821,"v":35},{"s":"HT MX","t":7949,"v":39},{"s":"HT MX","t":8078,"v":35},{"s":"HT MX","t":8206,"v":34},{"s":"HT MX","t":8334,"v":34},{"s":"HT MX","t":8462,"v":35},{"s":"HT MX","t":8591,"v":35},{"s":"HT MX","t":8719,"v":35},{"s":"HT MX","t":8847,"v":32},{"s":"HT MX","t":8975,"v":35},{"s":"HT MX","t":9103,"v":39},{"s":"HT MX","t":9231,"v":32},{"s":"HT MX","t":9328,"v":31},{"s":"HT MX","t":9424,"v":35},{"s":"HT MX","t":9552,"v":39},{"s":"HT MX","t":9680,"v":35},{"s":"HT MX","t":9808,"v":31},{"s":"HT MX","t":9937,"v":29},{"s":"HT MX","t":10065,"v":29},{"s":"HT MX","t":10193,"v":32},{"s":"HT MX","t":10289,"v":35},{"s":"HT MX","t":10385,"v":26},{"s":"HT MX","t":10481,"v":8},{"s":"HT MX","t":10546,"v":-4},{"s":"HT MX","t":10610,"v":-29},{"s":"HT MX","t":10674,"v":-53},{"s":"HT MX","t":10770,"v":-53},{"s":"HT MX","t":10866,"v":-47},{"s":"HT MX","t":10962,"v":-29},{"s":"HT MX","t":11058,"v":-26},{"s":"HT MX","t":11154,"v":-38},{"s":"HT MX","t":11283,"v":-41},{"s":"HT MX","t":11411,"v":-41},
      {"s":"HT MX","t":11628,"v":-35},{"s":"HT MX","t":11821,"v":-29},{"s":"HT MX","t":11949,"v":-36},{"s":"HT MX","t":12077,"v":-38},{"s":"HT MX","t":12269,"v":-35},{"s":"HT MX","t":12462,"v":-35},{"s":"HT MX","t":12590,"v":-32},{"s":"HT MX","t":12718,"v":-29},{"s":"HT MX","t":12814,"v":-32},{"s":"HT MX","t":12974,"v":-35},{"s":"HT MX","t":13167,"v":-35},{"s":"HT MX","t":13295,"v":-32},{"s":"HT MX","t":13423,"v":-20},{"s":"HT MX","t":13551,"v":-15},{"s":"HT MX","t":13680,"v":-13},{"s":"HT MX","t":13776,"v":-4},{"s":"HT MX","t":13872,"v":5},{"s":"HT MX","t":13968,"v":14},{"s":"HT MX","t":14064,"v":23},{"s":"HT MX","t":14160,"v":29},{"s":"HT MX","t":14256,"v":20},{"s":"HT MX","t":14353,"v":-4},{"s":"HT MX","t":14449,"v":-29},{"s":"HT MX","t":14577,"v":-59},{"s":"HT MX","t":14673,"v":-75},{"s":"HT MX","t":14769,"v":-81},{"s":"HT MX","t":14865,"v":-75},{"s":"HT MX","t":14949,"v":-53},{"s":"HT MX","t":15013,"v":-23},{"s":"HT MX","t":15090,"v":-4},{"s":"HT MX","t":15186,"v":8},
      {"s":"HT MX","t":15244,"v":20},{"s":"HT MX","t":15340,"v":32},{"s":"HT MX","t":15436,"v":39},{"s":"HT MX","t":15500,"v":32},{"s":"HT MX","t":15565,"v":2},{"s":"HT MX","t":15616,"v":-29},{"s":"HT MX","t":15661,"v":-65},{"s":"HT MX","t":15725,"v":-96},{"s":"HT MX","t":15808,"v":-108},{"s":"HT MX","t":15885,"v":-96},{"s":"HT MX","t":15949,"v":-59},{"s":"HT MX","t":16013,"v":-17},{"s":"HT MX","t":16077,"v":8},{"s":"HT MX","t":16174,"v":26},{"s":"HT MX","t":16270,"v":35},{"s":"HT MX","t":16366,"v":35},{"s":"HT MX","t":16430,"v":26},{"s":"HT MX","t":16526,"v":14},{"s":"HT MX","t":16622,"v":11},{"s":"HT MX","t":16782,"v":9},{"s":"HT MX","t":16975,"v":8},{"s":"HT MX","t":17167,"v":8},{"s":"HT MX","t":17488,"v":7},{"s":"HT MX","t":17808,"v":5},{"s":"HT MX","t":18129,"v":5},{"s":"HT MX","t":18449,"v":3},{"s":"HT MX","t":18770,"v":3},{"s":"HT MX","t":19026,"v":3},
      {"s":"HT MX","t":19692,"v":3},{"s":"HT MX","t":20333,"v":3},{"s":"HT MX","t":20718,"v":5},{"s":"HT MX","t":20846,"v":14},{"s":"HT MX","t":20974,"v":11},{"s":"HT MX","t":21230,"v":11},{"s":"HT MX","t":21487,"v":9},{"s":"HT MX","t":21743,"v":9},{"s":"HT MX","t":22000,"v":8},{"s":"HT MX","t":22256,"v":8},{"s":"HT MX","t":22513,"v":8},

      {"s":"HT FX","t":52,"v":5},{"s":"HT FX","t":398,"v":11},{"s":"HT FX","t":655,"v":14},{"s":"HT FX","t":911,"v":20},{"s":"HT FX","t":1039,"v":26},{"s":"HT FX","t":1135,"v":57},{"s":"HT FX","t":1199,"v":124},{"s":"HT FX","t":1263,"v":155},{"s":"HT FX","t":1328,"v":149},{"s":"HT FX","t":1423,"v":124},{"s":"HT FX","t":1501,"v":106},{"s":"HT FX","t":1584,"v":100},{"s":"HT FX","t":1667,"v":94},{"s":"HT FX","t":1731,"v":75},{"s":"HT FX","t":1808,"v":45},{"s":"HT FX","t":1885,"v":39},{"s":"HT FX","t":1936,"v":14},{"s":"HT FX","t":2000,"v":-4},{"s":"HT FX","t":2064,"v":-17},{"s":"HT FX","t":2161,"v":-20},{"s":"HT FX","t":2225,"v":-26},{"s":"HT FX","t":2289,"v":-10},{"s":"HT FX","t":2353,"v":-29},{"s":"HT FX","t":2449,"v":-59},{"s":"HT FX","t":2546,"v":-102},{"s":"HT FX","t":2642,"v":-145},{"s":"HT FX","t":2738,"v":-173},{"s":"HT FX","t":2834,"v":-157},{"s":"HT FX","t":2911,"v":-124},{"s":"HT FX","t":2994,"v":-133},{"s":"HT FX","t":3090,"v":-139},{"s":"HT FX","t":3186,"v":-124},{"s":"HT FX","t":3283,"v":-102},{"s":"HT FX","t":3347,"v":-85},{"s":"HT FX","t":3411,"v":-90},{"s":"HT FX","t":3475,"v":-70},{"s":"HT FX","t":3539,"v":-60},{"s":"HT FX","t":3603,"v":-62},{"s":"HT FX","t":3667,"v":-45},{"s":"HT FX","t":3763,"v":-40},{"s":"HT FX","t":3835,"v":-31},{"s":"HT FX","t":3955,"v":-87},
      {"s":"HT FX","t":4109,"v":14},{"s":"HT FX","t":4206,"v":39},{"s":"HT FX","t":4302,"v":42},{"s":"HT FX","t":4366,"v":32},{"s":"HT FX","t":4462,"v":-17},{"s":"HT FX","t":4590,"v":-59},{"s":"HT FX","t":4718,"v":-90},{"s":"HT FX","t":4815,"v":-114},{"s":"HT FX","t":4898,"v":-124},{"s":"HT FX","t":5007,"v":-114},{"s":"HT FX","t":5103,"v":-108},{"s":"HT FX","t":5199,"v":-78},{"s":"HT FX","t":5295,"v":-23},{"s":"HT FX","t":5391,"v":2},{"s":"HT FX","t":5488,"v":14},{"s":"HT FX","t":5584,"v":20},{"s":"HT FX","t":5680,"v":32},{"s":"HT FX","t":5776,"v":57},{"s":"HT FX","t":5840,"v":78},{"s":"HT FX","t":5924,"v":63},{"s":"HT FX","t":6000,"v":32},{"s":"HT FX","t":6097,"v":2},{"s":"HT FX","t":6193,"v":-47},{"s":"HT FX","t":6289,"v":-102},{"s":"HT FX","t":6385,"v":-105},{"s":"HT FX","t":6449,"v":-90},{"s":"HT FX","t":6545,"v":-108},{"s":"HT FX","t":6641,"v":-121},{"s":"HT FX","t":6738,"v":-125},{"s":"HT FX","t":6834,"v":-114},{"s":"HT FX","t":6930,"v":-90},{"s":"HT FX","t":6994,"v":-59},{"s":"HT FX","t":7090,"v":-35},{"s":"HT FX","t":7186,"v":-29},{"s":"HT FX","t":7283,"v":-4},{"s":"HT FX","t":7347,"v":45},{"s":"HT FX","t":7411,"v":155},{"s":"HT FX","t":7475,"v":216},{"s":"HT FX","t":7539,"v":259},{"s":"HT FX","t":7603,"v":247},
      {"s":"HT FX","t":7629,"v":234},{"s":"HT FX","t":7680,"v":198},{"s":"HT FX","t":7725,"v":167},{"s":"HT FX","t":7789,"v":161},{"s":"HT FX","t":7872,"v":179},{"s":"HT FX","t":7982,"v":201},{"s":"HT FX","t":8078,"v":179},{"s":"HT FX","t":8174,"v":149},{"s":"HT FX","t":8270,"v":139},{"s":"HT FX","t":8366,"v":150},{"s":"HT FX","t":8462,"v":141},{"s":"HT FX","t":8558,"v":147},{"s":"HT FX","t":8655,"v":150},{"s":"HT FX","t":8751,"v":155},{"s":"HT FX","t":8847,"v":149},{"s":"HT FX","t":8943,"v":161},{"s":"HT FX","t":9052,"v":173},{"s":"HT FX","t":9135,"v":143},{"s":"HT FX","t":9218,"v":118},{"s":"HT FX","t":9283,"v":103},{"s":"HT FX","t":9360,"v":118},{"s":"HT FX","t":9456,"v":155},{"s":"HT FX","t":9552,"v":178},{"s":"HT FX","t":9629,"v":161},{"s":"HT FX","t":9712,"v":130},{"s":"HT FX","t":9808,"v":115},{"s":"HT FX","t":9904,"v":118},{"s":"HT FX","t":10001,"v":124},{"s":"HT FX","t":10097,"v":136},{"s":"HT FX","t":10193,"v":152},{"s":"HT FX","t":10270,"v":143},{"s":"HT FX","t":10353,"v":118},{"s":"HT FX","t":10449,"v":63},{"s":"HT FX","t":10514,"v":20},{"s":"HT FX","t":10565,"v":-29},{"s":"HT FX","t":10610,"v":-90},{"s":"HT FX","t":10674,"v":-151},{"s":"HT FX","t":10738,"v":-170},{"s":"HT FX","t":10802,"v":-157},{"s":"HT FX","t":10866,"v":-170},{"s":"HT FX","t":10911,"v":-179},{"s":"HT FX","t":10962,"v":-151},{"s":"HT FX","t":11026,"v":-96},{"s":"HT FX","t":11090,"v":-75},{"s":"HT FX","t":11167,"v":-87},{"s":"HT FX","t":11250,"v":-114},{"s":"HT FX","t":11347,"v":-121},{"s":"HT FX","t":11411,"v":-109},
      {"s":"HT FX","t":11532,"v":-90},{"s":"HT FX","t":11628,"v":-59},{"s":"HT FX","t":11724,"v":-41},{"s":"HT FX","t":11821,"v":-47},{"s":"HT FX","t":11898,"v":-65},{"s":"HT FX","t":11981,"v":-90},{"s":"HT FX","t":12077,"v":-72},{"s":"HT FX","t":12173,"v":-53},{"s":"HT FX","t":12269,"v":-44},{"s":"HT FX","t":12365,"v":-47},{"s":"HT FX","t":12462,"v":-59},{"s":"HT FX","t":12538,"v":-72},{"s":"HT FX","t":12622,"v":-59},{"s":"HT FX","t":12718,"v":-38},{"s":"HT FX","t":12795,"v":-53},{"s":"HT FX","t":12878,"v":-59},{"s":"HT FX","t":13006,"v":-62},{"s":"HT FX","t":13135,"v":-65},{"s":"HT FX","t":13263,"v":-68},{"s":"HT FX","t":13359,"v":-47},{"s":"HT FX","t":13436,"v":-23},{"s":"HT FX","t":13500,"v":-7},{"s":"HT FX","t":13583,"v":-13},{"s":"HT FX","t":13647,"v":-17},{"s":"HT FX","t":13712,"v":-4},{"s":"HT FX","t":13808,"v":8},{"s":"HT FX","t":13904,"v":32},{"s":"HT FX","t":13987,"v":57},{"s":"HT FX","t":14064,"v":94},{"s":"HT FX","t":14128,"v":112},{"s":"HT FX","t":14192,"v":94},{"s":"HT FX","t":14256,"v":32},{"s":"HT FX","t":14321,"v":-29},{"s":"HT FX","t":14385,"v":-90},{"s":"HT FX","t":14449,"v":-139},{"s":"HT FX","t":14513,"v":-176},{"s":"HT FX","t":14577,"v":-200},{"s":"HT FX","t":14641,"v":-219},{"s":"HT FX","t":14705,"v":-237},{"s":"HT FX","t":14769,"v":-249},{"s":"HT FX","t":14833,"v":-224},{"s":"HT FX","t":14897,"v":-151},{"s":"HT FX","t":14962,"v":-59},{"s":"HT FX","t":15026,"v":20},{"s":"HT FX","t":15090,"v":69},{"s":"HT FX","t":15154,"v":106},{"s":"HT FX","t":15218,"v":118},
      {"s":"HT FX","t":15340,"v":143},{"s":"HT FX","t":15423,"v":170},{"s":"HT FX","t":15488,"v":143},{"s":"HT FX","t":15552,"v":63},{"s":"HT FX","t":15616,"v":-29},{"s":"HT FX","t":15661,"v":-121},{"s":"HT FX","t":15706,"v":-201},{"s":"HT FX","t":15757,"v":-262},{"s":"HT FX","t":15808,"v":-308},{"s":"HT FX","t":15853,"v":-287},{"s":"HT FX","t":15898,"v":-212},{"s":"HT FX","t":15949,"v":-121},{"s":"HT FX","t":16000,"v":-29},{"s":"HT FX","t":16064,"v":32},{"s":"HT FX","t":16141,"v":106},{"s":"HT FX","t":16206,"v":155},{"s":"HT FX","t":16257,"v":174},{"s":"HT FX","t":16302,"v":167},{"s":"HT FX","t":16366,"v":124},{"s":"HT FX","t":16430,"v":81},{"s":"HT FX","t":16494,"v":57},{"s":"HT FX","t":16558,"v":32},{"s":"HT FX","t":16622,"v":23},{"s":"HT FX","t":16686,"v":39},{"s":"HT FX","t":16750,"v":48},{"s":"HT FX","t":16814,"v":51},{"s":"HT FX","t":16911,"v":48},{"s":"HT FX","t":17007,"v":35},{"s":"HT FX","t":17103,"v":32},{"s":"HT FX","t":17167,"v":14},{"s":"HT FX","t":17263,"v":17},{"s":"HT FX","t":17359,"v":23},{"s":"HT FX","t":17455,"v":8},{"s":"HT FX","t":17552,"v":2},{"s":"HT FX","t":17648,"v":-1},{"s":"HT FX","t":17744,"v":2},{"s":"HT FX","t":17840,"v":-4},{"s":"HT FX","t":17923,"v":-13},{"s":"HT FX","t":18000,"v":-4},{"s":"HT FX","t":18097,"v":-1},{"s":"HT FX","t":18193,"v":-4},{"s":"HT FX","t":18289,"v":-13},{"s":"HT FX","t":18353,"v":-23},{"s":"HT FX","t":18417,"v":-4},{"s":"HT FX","t":18481,"v":45},{"s":"HT FX","t":18526,"v":75},{"s":"HT FX","t":18577,"v":97},{"s":"HT FX","t":18641,"v":103},{"s":"HT FX","t":18737,"v":94},{"s":"HT FX","t":18834,"v":91},{"s":"HT FX","t":18930,"v":97},{"s":"HT FX","t":19026,"v":106},
      {"s":"HT FX","t":19147,"v":118},{"s":"HT FX","t":19243,"v":130},{"s":"HT FX","t":19339,"v":136},{"s":"HT FX","t":19436,"v":140},{"s":"HT FX","t":19532,"v":146},{"s":"HT FX","t":19615,"v":155},{"s":"HT FX","t":19692,"v":152},{"s":"HT FX","t":19788,"v":136},{"s":"HT FX","t":19852,"v":133},{"s":"HT FX","t":19948,"v":143},{"s":"HT FX","t":20045,"v":143},{"s":"HT FX","t":20141,"v":146},{"s":"HT FX","t":20237,"v":161},{"s":"HT FX","t":20301,"v":173},{"s":"HT FX","t":20397,"v":167},{"s":"HT FX","t":20493,"v":176},{"s":"HT FX","t":20589,"v":194},{"s":"HT FX","t":20686,"v":210},{"s":"HT FX","t":20769,"v":228},{"s":"HT FX","t":20846,"v":240},{"s":"HT FX","t":20942,"v":243},{"s":"HT FX","t":21006,"v":249},{"s":"HT FX","t":21070,"v":240},{"s":"HT FX","t":21166,"v":252},{"s":"HT FX","t":21263,"v":268},{"s":"HT FX","t":21346,"v":250},{"s":"HT FX","t":21423,"v":228},{"s":"HT FX","t":21519,"v":228},{"s":"HT FX","t":21602,"v":216},{"s":"HT FX","t":21679,"v":207},{"s":"HT FX","t":21775,"v":213},{"s":"HT FX","t":21840,"v":204},{"s":"HT FX","t":21884,"v":167},{"s":"HT FX","t":21923,"v":112},{"s":"HT FX","t":21968,"v":57},{"s":"HT FX","t":22013,"v":8},{"s":"HT FX","t":22051,"v":-7},{"s":"HT FX","t":22128,"v":-4},{"s":"HT FX","t":22192,"v":14},{"s":"HT FX","t":22256,"v":11},{"s":"HT FX","t":22320,"v":5},{"s":"HT FX","t":22384,"v":8},{"s":"HT FX","t":22513,"v":5},

      {"s":"HT MZ","t":52,"v":1},{"s":"HT MZ","t":398,"v":2},{"s":"HT MZ","t":783,"v":-3},{"s":"HT MZ","t":1039,"v":-7},{"s":"HT MZ","t":1167,"v":-23},{"s":"HT MZ","t":1244,"v":-47},{"s":"HT MZ","t":1328,"v":-59},{"s":"HT MZ","t":1423,"v":-47},{"s":"HT MZ","t":1520,"v":-35},{"s":"HT MZ","t":1616,"v":-41},{"s":"HT MZ","t":1712,"v":-53},{"s":"HT MZ","t":1808,"v":-69},{"s":"HT MZ","t":1904,"v":-75},{"s":"HT MZ","t":2000,"v":-72},{"s":"HT MZ","t":2078,"v":-53},{"s":"HT MZ","t":2161,"v":-17},{"s":"HT MZ","t":2225,"v":2},{"s":"HT MZ","t":2321,"v":14},{"s":"HT MZ","t":2417,"v":14},{"s":"HT MZ","t":2513,"v":5},{"s":"HT MZ","t":2610,"v":-4},{"s":"HT MZ","t":2706,"v":8},{"s":"HT MZ","t":2834,"v":17},{"s":"HT MZ","t":2962,"v":20},{"s":"HT MZ","t":3090,"v":26},{"s":"HT MZ","t":3186,"v":29},{"s":"HT MZ","t":3283,"v":14},{"s":"HT MZ","t":3379,"v":-4},{"s":"HT MZ","t":3475,"v":-41},{"s":"HT MZ","t":3571,"v":-78},{"s":"HT MZ","t":3654,"v":-105},{"s":"HT MZ","t":3731,"v":-108},{"s":"HT MZ","t":3795,"v":-90},
      {"s":"HT MZ","t":3917,"v":-87},{"s":"HT MZ","t":4013,"v":-78},{"s":"HT MZ","t":4109,"v":-65},{"s":"HT MZ","t":4206,"v":-41},{"s":"HT MZ","t":4302,"v":-23},{"s":"HT MZ","t":4398,"v":-4},{"s":"HT MZ","t":4526,"v":14},{"s":"HT MZ","t":4654,"v":32},{"s":"HT MZ","t":4783,"v":42},{"s":"HT MZ","t":4911,"v":51},{"s":"HT MZ","t":5007,"v":52},{"s":"HT MZ","t":5103,"v":48},{"s":"HT MZ","t":5199,"v":39},{"s":"HT MZ","t":5295,"v":32},{"s":"HT MZ","t":5424,"v":26},{"s":"HT MZ","t":5520,"v":20},{"s":"HT MZ","t":5616,"v":26},{"s":"HT MZ","t":5744,"v":14},{"s":"HT MZ","t":5859,"v":5},{"s":"HT MZ","t":5968,"v":11},{"s":"HT MZ","t":6064,"v":14},{"s":"HT MZ","t":6193,"v":32},{"s":"HT MZ","t":6321,"v":48},{"s":"HT MZ","t":6417,"v":45},{"s":"HT MZ","t":6513,"v":57},{"s":"HT MZ","t":6641,"v":66},{"s":"HT MZ","t":6738,"v":60},{"s":"HT MZ","t":6834,"v":54},{"s":"HT MZ","t":6962,"v":45},{"s":"HT MZ","t":7058,"v":42},{"s":"HT MZ","t":7154,"v":39},{"s":"HT MZ","t":7250,"v":32},{"s":"HT MZ","t":7315,"v":8},{"s":"HT MZ","t":7379,"v":-29},{"s":"HT MZ","t":7443,"v":-78},{"s":"HT MZ","t":7507,"v":-114},{"s":"HT MZ","t":7571,"v":-121},
      {"s":"HT MZ","t":7629,"v":-108},{"s":"HT MZ","t":7680,"v":-90},{"s":"HT MZ","t":7744,"v":-78},{"s":"HT MZ","t":7821,"v":-75},{"s":"HT MZ","t":7917,"v":-77},{"s":"HT MZ","t":8014,"v":-81},{"s":"HT MZ","t":8142,"v":-78},{"s":"HT MZ","t":8270,"v":-72},{"s":"HT MZ","t":8398,"v":-70},{"s":"HT MZ","t":8527,"v":-68},{"s":"HT MZ","t":8655,"v":-65},{"s":"HT MZ","t":8783,"v":-65},{"s":"HT MZ","t":8911,"v":-62},{"s":"HT MZ","t":9039,"v":-59},{"s":"HT MZ","t":9168,"v":-59},{"s":"HT MZ","t":9264,"v":-59},{"s":"HT MZ","t":9360,"v":-65},{"s":"HT MZ","t":9488,"v":-72},{"s":"HT MZ","t":9584,"v":-78},{"s":"HT MZ","t":9680,"v":-72},{"s":"HT MZ","t":9776,"v":-62},{"s":"HT MZ","t":9872,"v":-59},{"s":"HT MZ","t":10001,"v":-59},{"s":"HT MZ","t":10097,"v":-62},{"s":"HT MZ","t":10193,"v":-68},{"s":"HT MZ","t":10289,"v":-65},{"s":"HT MZ","t":10385,"v":-53},{"s":"HT MZ","t":10481,"v":-29},{"s":"HT MZ","t":10546,"v":2},{"s":"HT MZ","t":10590,"v":32},{"s":"HT MZ","t":10642,"v":48},{"s":"HT MZ","t":10706,"v":57},{"s":"HT MZ","t":10802,"v":52},{"s":"HT MZ","t":10898,"v":48},{"s":"HT MZ","t":10994,"v":51},{"s":"HT MZ","t":11090,"v":52},{"s":"HT MZ","t":11186,"v":57},{"s":"HT MZ","t":11283,"v":57},{"s":"HT MZ","t":11379,"v":54},
      {"s":"HT MZ","t":11436,"v":52},{"s":"HT MZ","t":11564,"v":45},{"s":"HT MZ","t":11692,"v":35},{"s":"HT MZ","t":11821,"v":35},{"s":"HT MZ","t":11949,"v":45},{"s":"HT MZ","t":12045,"v":48},{"s":"HT MZ","t":12141,"v":42},{"s":"HT MZ","t":12237,"v":39},{"s":"HT MZ","t":12334,"v":39},{"s":"HT MZ","t":12462,"v":42},{"s":"HT MZ","t":12590,"v":42},{"s":"HT MZ","t":12718,"v":39},{"s":"HT MZ","t":12846,"v":42},{"s":"HT MZ","t":12974,"v":42},{"s":"HT MZ","t":13103,"v":39},{"s":"HT MZ","t":13231,"v":35},{"s":"HT MZ","t":13359,"v":29},{"s":"HT MZ","t":13487,"v":31},{"s":"HT MZ","t":13615,"v":32},{"s":"HT MZ","t":13712,"v":32},{"s":"HT MZ","t":13808,"v":26},{"s":"HT MZ","t":13904,"v":17},{"s":"HT MZ","t":14000,"v":14},{"s":"HT MZ","t":14096,"v":2},{"s":"HT MZ","t":14192,"v":-7},{"s":"HT MZ","t":14256,"v":2},{"s":"HT MZ","t":14353,"v":32},{"s":"HT MZ","t":14449,"v":57},{"s":"HT MZ","t":14545,"v":75},{"s":"HT MZ","t":14641,"v":90},{"s":"HT MZ","t":14718,"v":94},{"s":"HT MZ","t":14801,"v":82},{"s":"HT MZ","t":14897,"v":57},{"s":"HT MZ","t":14994,"v":32},{"s":"HT MZ","t":15090,"v":-4},{"s":"HT MZ","t":15186,"v":-23},
      {"s":"HT MZ","t":15244,"v":-29},{"s":"HT MZ","t":15308,"v":-35},{"s":"HT MZ","t":15372,"v":-41},{"s":"HT MZ","t":15436,"v":-59},{"s":"HT MZ","t":15488,"v":-29},{"s":"HT MZ","t":15552,"v":32},{"s":"HT MZ","t":15616,"v":63},{"s":"HT MZ","t":15680,"v":81},{"s":"HT MZ","t":15725,"v":87},{"s":"HT MZ","t":15789,"v":84},{"s":"HT MZ","t":15853,"v":72},{"s":"HT MZ","t":15917,"v":57},{"s":"HT MZ","t":16000,"v":32},{"s":"HT MZ","t":16077,"v":14},{"s":"HT MZ","t":16174,"v":-17},{"s":"HT MZ","t":16238,"v":-53},{"s":"HT MZ","t":16282,"v":-56},{"s":"HT MZ","t":16347,"v":-41},{"s":"HT MZ","t":16411,"v":-23},{"s":"HT MZ","t":16475,"v":-26},{"s":"HT MZ","t":16526,"v":-35},{"s":"HT MZ","t":16590,"v":-29},{"s":"HT MZ","t":16686,"v":-32},{"s":"HT MZ","t":16782,"v":-35},{"s":"HT MZ","t":16911,"v":-38},{"s":"HT MZ","t":17039,"v":-41},{"s":"HT MZ","t":17167,"v":-47},{"s":"HT MZ","t":17423,"v":-46},{"s":"HT MZ","t":17680,"v":-47},{"s":"HT MZ","t":17808,"v":-53},{"s":"HT MZ","t":17936,"v":-50},{"s":"HT MZ","t":18064,"v":-53},{"s":"HT MZ","t":18193,"v":-56},{"s":"HT MZ","t":18321,"v":-59},{"s":"HT MZ","t":18385,"v":-65},{"s":"HT MZ","t":18449,"v":-62},{"s":"HT MZ","t":18545,"v":-59},{"s":"HT MZ","t":18641,"v":-65},{"s":"HT MZ","t":18930,"v":-67},
      {"s":"HT MZ","t":19051,"v":-65},{"s":"HT MZ","t":19179,"v":-69},{"s":"HT MZ","t":19307,"v":-62},{"s":"HT MZ","t":19436,"v":-65},{"s":"HT MZ","t":19564,"v":-69},{"s":"HT MZ","t":19692,"v":-69},{"s":"HT MZ","t":19820,"v":-72},{"s":"HT MZ","t":19948,"v":-69},{"s":"HT MZ","t":20077,"v":-72},{"s":"HT MZ","t":20205,"v":-72},{"s":"HT MZ","t":20333,"v":-69},{"s":"HT MZ","t":20461,"v":-69},{"s":"HT MZ","t":20589,"v":-69},{"s":"HT MZ","t":20718,"v":-72},{"s":"HT MZ","t":20814,"v":-84},{"s":"HT MZ","t":20910,"v":-96},{"s":"HT MZ","t":21038,"v":-99},{"s":"HT MZ","t":21166,"v":-105},{"s":"HT MZ","t":21295,"v":-111},{"s":"HT MZ","t":21410,"v":-121},{"s":"HT MZ","t":21519,"v":-108},{"s":"HT MZ","t":21615,"v":-99},{"s":"HT MZ","t":21711,"v":-78},{"s":"HT MZ","t":21807,"v":-69},{"s":"HT MZ","t":21904,"v":-65},{"s":"HT MZ","t":22000,"v":-56},{"s":"HT MZ","t":22096,"v":-65},{"s":"HT MZ","t":22192,"v":-62},{"s":"HT MZ","t":22288,"v":-65},{"s":"HT MZ","t":22384,"v":-69},{"s":"HT MZ","t":22513,"v":-72},

      {"s":"HT MY","t":52,"v":1},{"s":"HT MY","t":398,"v":5},{"s":"HT MY","t":655,"v":2},{"s":"HT MY","t":1039,"v":-1},{"s":"HT MY","t":1135,"v":-10},{"s":"HT MY","t":1231,"v":-26},{"s":"HT MY","t":1328,"v":-17},{"s":"HT MY","t":1456,"v":-13},{"s":"HT MY","t":1616,"v":-7},{"s":"HT MY","t":1776,"v":-1},{"s":"HT MY","t":1936,"v":-6},{"s":"HT MY","t":2064,"v":-7},{"s":"HT MY","t":2193,"v":2},{"s":"HT MY","t":2321,"v":11},{"s":"HT MY","t":2481,"v":26},{"s":"HT MY","t":2578,"v":57},{"s":"HT MY","t":2655,"v":94},{"s":"HT MY","t":2770,"v":117},{"s":"HT MY","t":2866,"v":130},{"s":"HT MY","t":2930,"v":138},{"s":"HT MY","t":3026,"v":130},{"s":"HT MY","t":3122,"v":100},{"s":"HT MY","t":3218,"v":63},{"s":"HT MY","t":3315,"v":26},{"s":"HT MY","t":3411,"v":-10},{"s":"HT MY","t":3475,"v":-1},{"s":"HT MY","t":3539,"v":54},{"s":"HT MY","t":3616,"v":94},{"s":"HT MY","t":3699,"v":161},{"s":"HT MY","t":3795,"v":179},
      {"s":"HT MY","t":3885,"v":191},{"s":"HT MY","t":4013,"v":155},{"s":"HT MY","t":4109,"v":124},{"s":"HT MY","t":4206,"v":63},{"s":"HT MY","t":4302,"v":20},{"s":"HT MY","t":4398,"v":-17},{"s":"HT MY","t":4494,"v":8},{"s":"HT MY","t":4590,"v":39},{"s":"HT MY","t":4718,"v":63},{"s":"HT MY","t":4834,"v":69},{"s":"HT MY","t":4911,"v":57},{"s":"HT MY","t":4988,"v":39},{"s":"HT MY","t":5071,"v":2},{"s":"HT MY","t":5154,"v":-41},{"s":"HT MY","t":5231,"v":-4},{"s":"HT MY","t":5308,"v":32},{"s":"HT MY","t":5391,"v":63},{"s":"HT MY","t":5488,"v":100},{"s":"HT MY","t":5552,"v":88},{"s":"HT MY","t":5629,"v":57},{"s":"HT MY","t":5693,"v":66},{"s":"HT MY","t":5744,"v":86},{"s":"HT MY","t":5821,"v":57},{"s":"HT MY","t":5904,"v":32},{"s":"HT MY","t":6000,"v":32},{"s":"HT MY","t":6077,"v":14},{"s":"HT MY","t":6161,"v":-17},{"s":"HT MY","t":6244,"v":-53},{"s":"HT MY","t":6321,"v":-17},{"s":"HT MY","t":6385,"v":32},{"s":"HT MY","t":6462,"v":40},{"s":"HT MY","t":6545,"v":43},{"s":"HT MY","t":6629,"v":26},{"s":"HT MY","t":6718,"v":-23},{"s":"HT MY","t":6808,"v":-87},{"s":"HT MY","t":6898,"v":-60},{"s":"HT MY","t":6994,"v":-29},{"s":"HT MY","t":7090,"v":-4},{"s":"HT MY","t":7167,"v":14},{"s":"HT MY","t":7231,"v":51},{"s":"HT MY","t":7295,"v":78},{"s":"HT MY","t":7379,"v":32},{"s":"HT MY","t":7475,"v":-29},{"s":"HT MY","t":7571,"v":-90},
      {"s":"HT MY","t":7629,"v":-108},{"s":"HT MY","t":7693,"v":-90},{"s":"HT MY","t":7770,"v":-75},{"s":"HT MY","t":7853,"v":-66},{"s":"HT MY","t":7949,"v":-58},{"s":"HT MY","t":8026,"v":-55},{"s":"HT MY","t":8110,"v":-60},{"s":"HT MY","t":8206,"v":-69},{"s":"HT MY","t":8334,"v":-69},{"s":"HT MY","t":8462,"v":-66},{"s":"HT MY","t":8591,"v":-66},{"s":"HT MY","t":8719,"v":-63},{"s":"HT MY","t":8847,"v":-60},{"s":"HT MY","t":8975,"v":-56},{"s":"HT MY","t":9090,"v":-50},{"s":"HT MY","t":9199,"v":-60},{"s":"HT MY","t":9308,"v":-60},{"s":"HT MY","t":9424,"v":-53},{"s":"HT MY","t":9507,"v":-32},{"s":"HT MY","t":9552,"v":-29},{"s":"HT MY","t":9616,"v":-41},{"s":"HT MY","t":9693,"v":-50},{"s":"HT MY","t":9808,"v":-50},{"s":"HT MY","t":9937,"v":-47},{"s":"HT MY","t":10065,"v":-41},{"s":"HT MY","t":10193,"v":-35},{"s":"HT MY","t":10321,"v":-32},{"s":"HT MY","t":10417,"v":-29},{"s":"HT MY","t":10481,"v":-17},{"s":"HT MY","t":10546,"v":8},{"s":"HT MY","t":10590,"v":39},{"s":"HT MY","t":10642,"v":57},{"s":"HT MY","t":10706,"v":57},{"s":"HT MY","t":10770,"v":51},{"s":"HT MY","t":10866,"v":45},{"s":"HT MY","t":10930,"v":48},{"s":"HT MY","t":11026,"v":54},{"s":"HT MY","t":11122,"v":42},{"s":"HT MY","t":11218,"v":26},{"s":"HT MY","t":11347,"v":32},
      {"s":"HT MY","t":11436,"v":42},{"s":"HT MY","t":11564,"v":48},{"s":"HT MY","t":11660,"v":42},{"s":"HT MY","t":11789,"v":42},{"s":"HT MY","t":11885,"v":32},{"s":"HT MY","t":11981,"v":20},{"s":"HT MY","t":12026,"v":14},{"s":"HT MY","t":12077,"v":26},{"s":"HT MY","t":12173,"v":35},{"s":"HT MY","t":12269,"v":42},{"s":"HT MY","t":12365,"v":39},{"s":"HT MY","t":12462,"v":39},{"s":"HT MY","t":12558,"v":26},{"s":"HT MY","t":12622,"v":20},{"s":"HT MY","t":12686,"v":26},{"s":"HT MY","t":12782,"v":32},{"s":"HT MY","t":12878,"v":23},{"s":"HT MY","t":12974,"v":14},{"s":"HT MY","t":13071,"v":8},{"s":"HT MY","t":13167,"v":5},{"s":"HT MY","t":13263,"v":5},{"s":"HT MY","t":13359,"v":14},{"s":"HT MY","t":13455,"v":29},{"s":"HT MY","t":13551,"v":45},{"s":"HT MY","t":13647,"v":51},{"s":"HT MY","t":13744,"v":54},{"s":"HT MY","t":13872,"v":54},{"s":"HT MY","t":14000,"v":54},{"s":"HT MY","t":14128,"v":48},{"s":"HT MY","t":14256,"v":39},{"s":"HT MY","t":14353,"v":32},{"s":"HT MY","t":14449,"v":51},{"s":"HT MY","t":14545,"v":66},{"s":"HT MY","t":14641,"v":75},{"s":"HT MY","t":14737,"v":72},{"s":"HT MY","t":14833,"v":57},{"s":"HT MY","t":14929,"v":32},{"s":"HT MY","t":15026,"v":2},{"s":"HT MY","t":15122,"v":14},{"s":"HT MY","t":15218,"v":39},
      {"s":"HT MY","t":15340,"v":26},{"s":"HT MY","t":15404,"v":2},{"s":"HT MY","t":15468,"v":-23},{"s":"HT MY","t":15532,"v":-4},{"s":"HT MY","t":15597,"v":32},{"s":"HT MY","t":15661,"v":63},{"s":"HT MY","t":15725,"v":69},{"s":"HT MY","t":15789,"v":57},{"s":"HT MY","t":15853,"v":32},{"s":"HT MY","t":15917,"v":8},{"s":"HT MY","t":15981,"v":-4},{"s":"HT MY","t":16045,"v":2},{"s":"HT MY","t":16109,"v":-4},{"s":"HT MY","t":16174,"v":-10},{"s":"HT MY","t":16270,"v":2},{"s":"HT MY","t":16366,"v":8},{"s":"HT MY","t":16462,"v":5},{"s":"HT MY","t":16558,"v":-4},{"s":"HT MY","t":16654,"v":-4},{"s":"HT MY","t":16782,"v":-10},{"s":"HT MY","t":16911,"v":-17},{"s":"HT MY","t":17039,"v":-17},{"s":"HT MY","t":17167,"v":-13},{"s":"HT MY","t":17295,"v":-17},{"s":"HT MY","t":17552,"v":-17},{"s":"HT MY","t":17808,"v":-23},{"s":"HT MY","t":17936,"v":-20},{"s":"HT MY","t":18064,"v":-17},{"s":"HT MY","t":18321,"v":-20},{"s":"HT MY","t":18577,"v":-17},{"s":"HT MY","t":18834,"v":-18},{"s":"HT MY","t":19026,"v":-18},
      {"s":"HT MY","t":19307,"v":-13},{"s":"HT MY","t":19564,"v":-13},{"s":"HT MY","t":19884,"v":-13},{"s":"HT MY","t":20205,"v":-15},{"s":"HT MY","t":20525,"v":-13},{"s":"HT MY","t":20654,"v":-7},{"s":"HT MY","t":20782,"v":1},{"s":"HT MY","t":20910,"v":2},{"s":"HT MY","t":21102,"v":1},{"s":"HT MY","t":21262,"v":-3},{"s":"HT MY","t":21423,"v":-7},{"s":"HT MY","t":21551,"v":-7},{"s":"HT MY","t":21679,"v":-4},{"s":"HT MY","t":21743,"v":2},{"s":"HT MY","t":21807,"v":11},{"s":"HT MY","t":21872,"v":5},{"s":"HT MY","t":21968,"v":2},{"s":"HT MY","t":22064,"v":5},{"s":"HT MY","t":22192,"v":8},{"s":"HT MY","t":22256,"v":5},{"s":"HT MY","t":22384,"v":14},{"s":"HT MY","t":22513,"v":14}
    ],
    "phaseMarks": [
      {"x": 1200, "y": 158, "y2": -188},
      {"x": 7430, "y": 136, "y2": -209},
      {"x": 10590, "y": 136, "y2": -209},
      {"x": 13710, "y": 136, "y2": -209},
      {"x": 16270, "y": 136, "y2": -209},
      {"x": 22350, "y": 136, "y2": -209}
    ],
    "phaseSpans": [
      {"x": 1200, "x2": 7430, "y": -147},
      {"x": 7430, "x2": 10590, "y": -147},
      {"x": 10590, "x2": 13710, "y": -147},
      {"x": 13710, "x2": 16270, "y": -147},
      {"x": 16270, "x2": 22350, "y": -147}
    ],
    "arrowHeads": [
      {"x": 1200, "y": -147, "dir": "left"}, {"x": 7430, "y": -147, "dir": "right"},
      {"x": 7430, "y": -147, "dir": "left"}, {"x": 10590, "y": -147, "dir": "right"},
      {"x": 10590, "y": -147, "dir": "left"}, {"x": 13710, "y": -147, "dir": "right"},
      {"x": 13710, "y": -147, "dir": "left"}, {"x": 16270, "y": -147, "dir": "right"},
      {"x": 16270, "y": -147, "dir": "left"}, {"x": 22350, "y": -147, "dir": "right"}
    ],
    "phaseLabels": [
      {"x": 2417, "y": -207, "label": "3 Pedaling Cycles"},
      {"x": 7667, "y": -201, "label": "Coasting on"},
      {"x": 7667, "y": -291, "label": "Right Foot"},
      {"x": 10821, "y": -201, "label": "Coasting on"},
      {"x": 10821, "y": -291, "label": "Left Foot"},
      {"x": 13783, "y": -201, "label": "2 Pedaling"},
      {"x": 13783, "y": -291, "label": "Cycles"},
      {"x": 17591, "y": -201, "label": "Coasting on"},
      {"x": 17591, "y": -291, "label": "Right Foot"}
    ],
    "handles": [
      {"x": 52, "y": 646}, {"x": 11456, "y": 646}, {"x": 22860, "y": 646},
      {"x": 52, "y": 165.5}, {"x": 22860, "y": 165.5},
      {"x": 52, "y": -315}, {"x": 22860, "y": -315}
    ]
  },
  "layer": [
    {
      "data": {"name": "signals"},
      "mark": {"type": "line", "strokeWidth": 1.1},
      "encoding": {
        "x": {"field": "t", "type": "quantitative", "scale": {"domain": [52, 22860], "nice": false, "zero": false},
              "axis": {"orient": "bottom", "values": [2000, 4000, 6000, 8000, 10000, 12000, 14000, 16000, 18000, 20000, 22000], "labelExpr": "format(datum.value / 10000, '~g')", "labelPadding": 20, "title": "milliseconds", "titleX": 593, "titleY": 38, "titleBaseline": "alphabetic", "titleAlign": "center"}},
        "y": {"field": "v", "type": "quantitative", "scale": {"domain": [-315, 646], "nice": false, "zero": false},
              "axis": {"orient": "left", "values": [-300, -200, -100, 0, 100, 200, 300, 400, 500, 600], "labelPadding": 18, "title": "lbs", "titleX": -47, "titleY": 277, "titleAngle": -90, "titleBaseline": "alphabetic", "titleAlign": "center"}},
        "color": {"field": "s", "type": "nominal",
                  "scale": {"domain": ["BB MY", "BB FZ", "BB MX", "BB FY", "HT MX", "HT FX", "HT MZ", "HT MY"], "range": ["#0000ff", "#008000", "#ff0000", "#00bfbf", "#bf00bf", "#bfbf00", "#404040", "#0000ff"]},
                  "legend": {"values": ["BB MY", "BB FZ", "BB MX", "BB FY", "HT MX", "HT FX", "HT MZ"], "title": null, "orient": "none", "legendX": 1071, "legendY": 0, "symbolType": "stroke", "symbolSize": 2116, "symbolStrokeWidth": 1, "labelFont": "Liberation Sans", "labelFontSize": 14, "labelColor": "#222222", "labelOffset": 11, "symbolOffset": 4, "padding": 6, "rowPadding": 6.2, "clipHeight": 16, "strokeColor": "#222222", "fillColor": "white", "cornerRadius": 0}}
      }
    },
    {
      "data": {"name": "phaseMarks"},
      "mark": {"type": "rule", "color": "black", "strokeWidth": 2},
      "encoding": {
        "x": {"field": "x", "type": "quantitative", "scale": {"domain": [52, 22860], "nice": false, "zero": false},
              "axis": {"orient": "top", "values": [2000, 4000, 6000, 8000, 10000, 12000, 14000, 16000, 18000, 20000, 22000], "labels": false, "title": null}},
        "y": {"field": "y", "type": "quantitative", "scale": {"domain": [-315, 646], "nice": false, "zero": false},
              "axis": {"orient": "right", "values": [-300, -200, -100, 0, 100, 200, 300, 400, 500, 600], "labels": false, "title": null}},
        "y2": {"field": "y2"}
      }
    },
    {
      "data": {"name": "phaseSpans"},
      "mark": {"type": "rule", "color": "black", "strokeWidth": 2},
      "encoding": {
        "x": {"field": "x", "type": "quantitative", "scale": {"domain": [52, 22860], "nice": false, "zero": false}, "axis": null},
        "x2": {"field": "x2"},
        "y": {"field": "y", "type": "quantitative", "scale": {"domain": [-315, 646], "nice": false, "zero": false}, "axis": null}
      }
    },
    {
      "data": {"name": "arrowHeads"},
      "mark": {"type": "point", "filled": true, "color": "black", "opacity": 1, "size": 256},
      "encoding": {
        "x": {"field": "x", "type": "quantitative", "scale": {"domain": [52, 22860], "nice": false, "zero": false}, "axis": null},
        "y": {"field": "y", "type": "quantitative", "scale": {"domain": [-315, 646], "nice": false, "zero": false}, "axis": null},
        "shape": {"field": "dir", "type": "nominal", "scale": {"domain": ["left", "right"], "range": ["M0,0L2,-0.85L2,0.85Z", "M0,0L-2,-0.85L-2,0.85Z"]}, "legend": null}
      }
    },
    {
      "data": {"name": "phaseLabels"},
      "mark": {"type": "text", "align": "left", "baseline": "alphabetic", "font": "Liberation Serif", "fontSize": 29, "color": "black"},
      "encoding": {
        "x": {"field": "x", "type": "quantitative", "scale": {"domain": [52, 22860], "nice": false, "zero": false}, "axis": null},
        "y": {"field": "y", "type": "quantitative", "scale": {"domain": [-315, 646], "nice": false, "zero": false}, "axis": null},
        "text": {"field": "label"}
      }
    },
    {
      "data": {"values": [{"x": 22205, "y": -394, "label": "x 10"}]},
      "mark": {"type": "text", "align": "left", "baseline": "alphabetic", "font": "Liberation Sans", "fontSize": 12, "color": "#222222"},
      "encoding": {
        "x": {"field": "x", "type": "quantitative", "scale": {"domain": [52, 22860], "nice": false, "zero": false}, "axis": null},
        "y": {"field": "y", "type": "quantitative", "scale": {"domain": [-315, 646], "nice": false, "zero": false}, "axis": null},
        "text": {"field": "label"}
      }
    },
    {
      "data": {"values": [{"x": 22626, "y": -380, "label": "4"}]},
      "mark": {"type": "text", "align": "left", "baseline": "alphabetic", "font": "Liberation Sans", "fontSize": 9, "color": "#222222"},
      "encoding": {
        "x": {"field": "x", "type": "quantitative", "scale": {"domain": [52, 22860], "nice": false, "zero": false}, "axis": null},
        "y": {"field": "y", "type": "quantitative", "scale": {"domain": [-315, 646], "nice": false, "zero": false}, "axis": null},
        "text": {"field": "label"}
      }
    },
    {
      "data": {"name": "handles"},
      "mark": {"type": "point", "shape": "square", "filled": true, "color": "#1a1a1a", "opacity": 1, "size": 56},
      "encoding": {
        "x": {"field": "x", "type": "quantitative", "scale": {"domain": [52, 22860], "nice": false, "zero": false}, "axis": null},
        "y": {"field": "y", "type": "quantitative", "scale": {"domain": [-315, 646], "nice": false, "zero": false}, "axis": null}
      }
    }
  ],
  "resolve": {"axis": {"x": "independent", "y": "independent"}}
}
